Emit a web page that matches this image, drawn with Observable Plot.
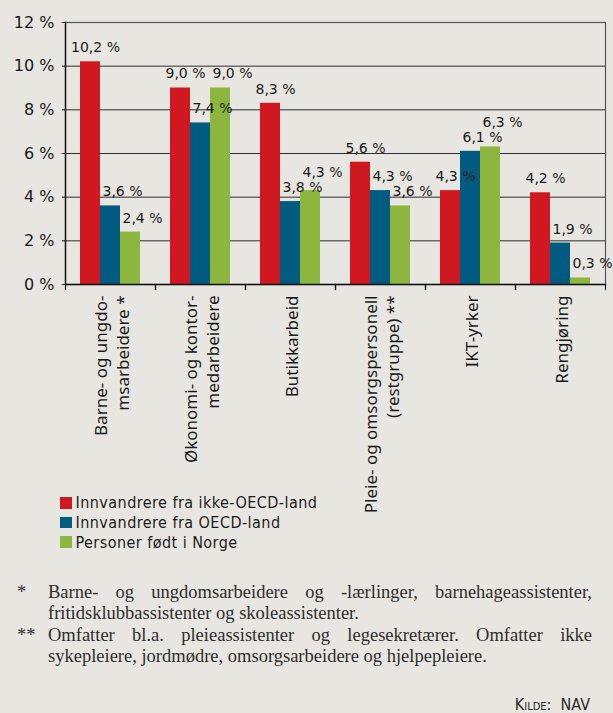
<!DOCTYPE html>
<html>
<head>
<meta charset="utf-8">
<script src="https://cdn.jsdelivr.net/npm/d3@7"></script>
<script src="https://cdn.jsdelivr.net/npm/@observablehq/plot@0.6"></script>
<style>
  html, body { margin: 0; padding: 0; background: #e7e6e0; }
  #wrap { position: relative; width: 613px; height: 713px; background: #e7e6e0; overflow: hidden; }
  #chart { position: absolute; left: 0; top: 0; }
  #legend { position: absolute; left: 60px; top: 493px; font-family: "DejaVu Sans Condensed", "DejaVu Sans", sans-serif; font-size: 16px; letter-spacing: 0.45px; color: #1c1c1c; }
  #legend .row { display: flex; align-items: center; height: 19.7px; white-space: nowrap; }
  #legend .sw { width: 11.5px; height: 11.5px; margin-right: 4px; flex: none; }
  #notes { position: absolute; left: 17px; top: 582px; width: 575px; font-family: "Liberation Serif", "Times New Roman", serif; font-size: 18.5px; line-height: 21.3px; color: #2e2e2e; }
  #notes .n { display: flex; }
  #notes .m { width: 31px; flex: none; }
  #notes .t { flex: 1; text-align: justify; }
  #kilde { position: absolute; right: 23px; top: 697px; font-family: "DejaVu Sans Condensed", "DejaVu Sans", sans-serif; font-size: 16px; line-height: 16px; font-variant: small-caps; color: #2a2a2a; white-space: pre; }
</style>
</head>
<body>
<div id="wrap">
  <div id="chart"></div>
  <div id="legend"></div>
  <div id="notes"></div>
  <div id="kilde"></div>
</div>
<script>
// ---- Data ----
const categories = [
  "Barne- og ungdo-\nmsarbeidere *",
  "Økonomi- og kontor-\nmedarbeidere",
  "Butikkarbeid",
  "Pleie- og omsorgspersonell\n(restgruppe) **",
  "IKT-yrker",
  "Rengjøring"
];
const seriesNames = [
  "Innvandrere fra ikke-OECD-land",
  "Innvandrere fra OECD-land",
  "Personer født i Norge"
];
const nonOECD = [10.2, 9.0, 8.3, 5.6, 4.3, 4.2];
const OECD    = [3.6, 7.4, 3.8, 4.3, 6.1, 1.9];
const norway  = [2.4, 9.0, 4.3, 3.6, 6.3, 0.3];
const yTicks = [0, 2, 4, 6, 8, 10, 12];
const colors = ["#cf1820", "#005b80", "#8db63e"];
const footnotes = [
  ["*", "Barne- og ungdomsarbeidere og -lærlinger, barnehageassistenter, fritidsklubbassistenter og skoleassistenter."],
  ["**", "Omfatter bl.a. pleieassistenter og legesekretærer. Omfatter ikke sykepleiere, jordmødre, omsorgsarbeidere og hjelpepleiere."]
];
const source = "Kilde:\u00a0 NAV";

// ---- Build table ----
const seriesValues = [nonOECD, OECD, norway];
const rows = [];
seriesNames.forEach((s, k) => {
  categories.forEach((c, i) => rows.push({cat: c, series: s, k, i, value: seriesValues[k][i]}));
});
const fmt = v => v.toFixed(1).replace(".", ",") + " %";

// Label anchor: a label that would collide with the neighbouring (previous series)
// label is lifted above it, like the spreadsheet's automatic label placement.
const minGap = 0.68; // in % units (about one text line)
const labelY = d => {
  if (d.k === 2) {
    const prev = seriesValues[1][d.i];
    if (d.value >= prev && d.value - prev < minGap) return prev + minGap;
  }
  return d.value;
};

// ---- Layout ----
const W = 613, H = 485, mL = 64, mR = 7, mT = 22, mB = 201;
const plotH = H - mT - mB;
const labelDx = [5, 12, 12];

const chart = Plot.plot({
  width: W, height: H,
  marginLeft: mL, marginRight: mR, marginTop: mT, marginBottom: mB,
  style: {background: "transparent", fontFamily: "DejaVu Sans", color: "#1a1a1a", overflow: "visible"},
  fx: {domain: categories, padding: 0, label: null},
  x: {domain: seriesNames, paddingInner: 0, paddingOuter: 0.72, axis: null},
  y: {domain: [0, 12], ticks: yTicks, label: null},
  color: {domain: seriesNames, range: colors},
  marks: [
    Plot.gridY(yTicks, {stroke: "#2c2c2c", strokeOpacity: 1, strokeWidth: 1}),
    Plot.frame({facet: "super", stroke: "#555", strokeWidth: 1.2}),
    Plot.barY(rows, {fx: "cat", x: "series", y: "value", fill: "series"}),
    ...seriesNames.map((s, k) => Plot.text(rows.filter(d => d.series === s), {
      fx: "cat", x: "series", y: labelY, text: d => fmt(d.value),
      dy: -14, dx: labelDx[k], fontSize: 14, fill: "#1a1a1a"
    })),
    Plot.frame({anchor: "left", insetTop: plotH, insetBottom: -5, stroke: "#111", strokeWidth: 1.2}),
    Plot.frame({anchor: "right", insetTop: plotH, insetBottom: -5, stroke: "#111", strokeWidth: 1.2}),
    Plot.ruleY([0], {stroke: "#111", strokeWidth: 1.4}),
    Plot.frame({facet: "super", anchor: "left", stroke: "#111", strokeWidth: 1.4}),
    Plot.axisY(yTicks, {tickFormat: d => d + " %", fontSize: 16, tickSize: 3, tickPadding: 8, fontFamily: "DejaVu Sans", label: null, stroke: "#111"}),
    Plot.axisFx({anchor: "bottom", tickRotate: -90, tickSize: 0, tickPadding: 11, fontSize: 17, fontFamily: "Noto Sans", lineHeight: 1.3, label: null, fill: "#1a1a1a"})
  ]
});
document.getElementById("chart").appendChild(chart);

// ---- Legend ----
const legend = document.getElementById("legend");
seriesNames.forEach((s, k) => {
  const row = document.createElement("div");
  row.className = "row";
  const sw = document.createElement("span");
  sw.className = "sw";
  sw.style.background = colors[k];
  const t = document.createElement("span");
  t.textContent = s;
  row.appendChild(sw); row.appendChild(t);
  legend.appendChild(row);
});

// ---- Footnotes ----
const notes = document.getElementById("notes");
footnotes.forEach(([m, t]) => {
  const n = document.createElement("div");
  n.className = "n";
  const ms = document.createElement("span"); ms.className = "m"; ms.textContent = m;
  const ts = document.createElement("span"); ts.className = "t"; ts.textContent = t;
  n.appendChild(ms); n.appendChild(ts);
  notes.appendChild(n);
});
document.getElementById("kilde").textContent = source;
</script>
</body>
</html>
